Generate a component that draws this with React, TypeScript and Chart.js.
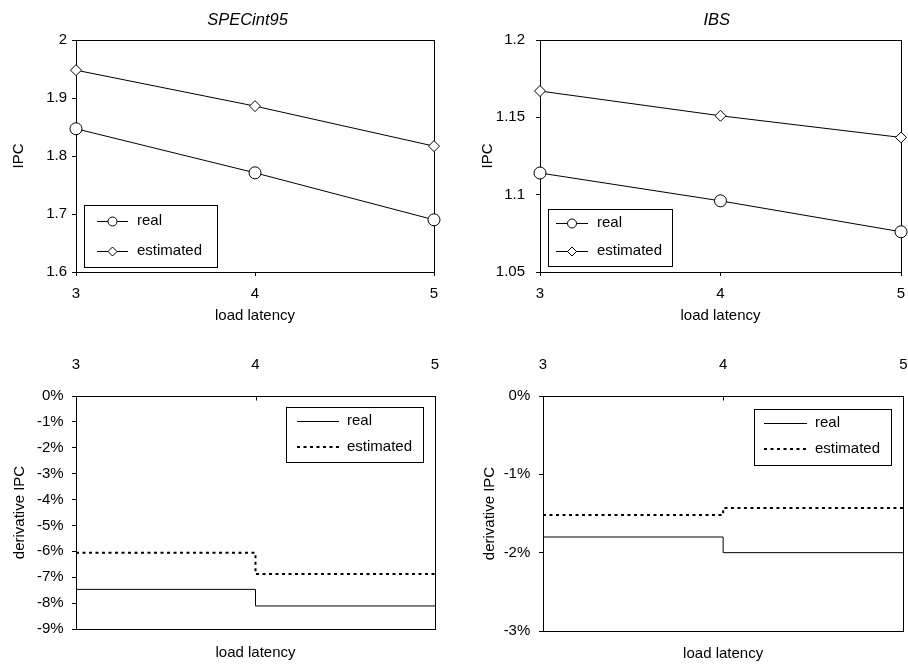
import React, { useEffect, useRef } from "react";
import { Chart, registerables } from "chart.js";

Chart.register(...registerables);

const FONT = "'Liberation Sans', Arial, Helvetica, sans-serif";
Chart.defaults.font.family = FONT;
Chart.defaults.font.size = 15;
Chart.defaults.color = "#000";

// ---------- data ----------
const loadLatency = [3, 4, 5];
const seriesLabels = ["real", "estimated"];
const panelTitles = ["SPECint95", "IBS"];
const xAxisTitle = "load latency";
const ipcAxisTitle = "IPC";
const derivAxisTitle = "derivative IPC";

const specIpcReal = [1.847, 1.771, 1.69];
const specIpcEstimated = [1.948, 1.886, 1.817];
const ibsIpcReal = [1.114, 1.096, 1.076];
const ibsIpcEstimated = [1.167, 1.151, 1.137];

// derivative of IPC per latency interval (3->4, 4->5), in percent
const specDerivReal = [-7.47, -8.11];
const specDerivEstimated = [-6.05, -6.88];
const ibsDerivReal = [-1.8, -2.0];
const ibsDerivEstimated = [-1.52, -1.43];

const specIpcTicks = [1.6, 1.7, 1.8, 1.9, 2];
const ibsIpcTicks = [1.05, 1.1, 1.15, 1.2];
const specDerivTicks = [-9, -8, -7, -6, -5, -4, -3, -2, -1, 0];
const ibsDerivTicks = [-3, -2, -1, 0];

// ---------- helpers ----------
const linePoints = (vals: number[]) => loadLatency.map((x, i) => ({ x, y: vals[i] }));
const stepPoints = (vals: number[]) =>
  loadLatency.map((x, i) => ({ x, y: vals[Math.min(i, vals.length - 1)] }));

const decorPlugin = {
  id: "decor",
  beforeDatasetsDraw(chart: any, _args: any, opts: any) {
    const { ctx, chartArea: a } = chart;
    ctx.save();
    ctx.strokeStyle = "#000";
    ctx.lineWidth = 1;
    ctx.setLineDash([]);
    const l = Math.round(a.left) + 0.5;
    const r = Math.round(a.right) + 0.5;
    const t = Math.round(a.top) + 0.5;
    const b = Math.round(a.bottom) + 0.5;
    ctx.strokeRect(l, t, r - l, b - t);
    if (opts.innerTopTicks) {
      const xs = chart.scales.x;
      ctx.beginPath();
      xs.ticks.forEach((tk: any) => {
        const px = Math.round(xs.getPixelForValue(tk.value)) + 0.5;
        ctx.moveTo(px, t);
        ctx.lineTo(px, t + 4);
      });
      ctx.stroke();
    }
    ctx.restore();
  },
  afterDatasetsDraw(chart: any, _args: any, opts: any) {
    const { ctx } = chart;
    ctx.save();
    if (opts.title) {
      ctx.font = `italic 16.5px ${FONT}`;
      ctx.fillStyle = "#000";
      ctx.textAlign = "center";
      ctx.textBaseline = "alphabetic";
      ctx.fillText(opts.title, opts.titleX, opts.titleY);
    }
    const lg = opts.legend;
    if (lg) {
      const [x0, y0, x1, y1] = lg.box;
      ctx.fillStyle = "#fff";
      ctx.fillRect(x0, y0, x1 - x0, y1 - y0);
      ctx.strokeStyle = "#000";
      ctx.lineWidth = 1;
      ctx.setLineDash([]);
      ctx.strokeRect(Math.round(x0) + 0.5, Math.round(y0) + 0.5, Math.round(x1 - x0), Math.round(y1 - y0));
      chart.data.datasets.forEach((ds: any, i: number) => {
        const y = lg.rows[i];
        ctx.save();
        ctx.strokeStyle = ds.borderColor;
        ctx.lineWidth = ds.borderWidth;
        ctx.setLineDash(ds.borderDash || []);
        ctx.beginPath();
        const yy = ds.borderWidth % 2 === 1 ? Math.round(y) + 0.5 : Math.round(y);
        ctx.moveTo(lg.line[0], yy);
        ctx.lineTo(lg.line[1], yy);
        ctx.stroke();
        ctx.restore();
        if (ds.pointRadius > 0) {
          const mx = (lg.line[0] + lg.line[1]) / 2;
          const rr = 4.5;
          ctx.save();
          ctx.fillStyle = "#fff";
          ctx.strokeStyle = "#000";
          ctx.lineWidth = 1;
          ctx.setLineDash([]);
          ctx.beginPath();
          if (ds.pointStyle === "circle") {
            ctx.arc(mx, yy, rr, 0, Math.PI * 2);
          } else {
            ctx.moveTo(mx - rr, yy);
            ctx.lineTo(mx, yy - rr);
            ctx.lineTo(mx + rr, yy);
            ctx.lineTo(mx, yy + rr);
            ctx.closePath();
          }
          ctx.fill();
          ctx.stroke();
          ctx.restore();
        }
        ctx.fillStyle = "#000";
        ctx.font = `15px ${FONT}`;
        ctx.textAlign = "left";
        ctx.textBaseline = "middle";
        ctx.fillText(ds.label, lg.text, y);
      });
    }
    ctx.restore();
  },
};

const realIpcStyle = {
  borderColor: "#000",
  borderWidth: 1,
  pointStyle: "circle",
  pointRadius: 6,
  pointBackgroundColor: "#fff",
  pointBorderColor: "#000",
  pointBorderWidth: 1,
  clip: false,
};
const estIpcStyle = {
  borderColor: "#000",
  borderWidth: 1,
  pointStyle: "rectRot",
  pointRadius: 5.5,
  pointBackgroundColor: "#fff",
  pointBorderColor: "#000",
  pointBorderWidth: 1,
  clip: false,
};
const realDerivStyle = {
  borderColor: "#000",
  borderWidth: 1,
  pointRadius: 0,
  stepped: true,
  clip: false,
};
const estDerivStyle = {
  borderColor: "#000",
  borderWidth: 2,
  borderDash: [3, 3.5],
  pointRadius: 0,
  stepped: true,
  clip: false,
};

const tickGrid = { display: true, drawOnChartArea: false, drawTicks: true, tickLength: 4, color: "#000", lineWidth: 1 };

const fixHeight = (h: number) => (s: any) => {
  s.height = h;
  s.paddingLeft = 0;
  s.paddingRight = 0;
};

function ipcConfig(p: any) {
  return {
    type: "line",
    data: {
      datasets: [
        { label: seriesLabels[0], data: linePoints(p.real), ...realIpcStyle },
        { label: seriesLabels[1], data: linePoints(p.est), ...estIpcStyle },
      ],
    },
    plugins: [decorPlugin],
    options: {
      responsive: false,
      animation: false,
      devicePixelRatio: 1,
      layout: { padding: { left: 0, top: 40, right: p.padRight, bottom: 0 } },
      plugins: {
        legend: { display: false },
        tooltip: { enabled: false },
        decor: { title: p.title, titleX: p.titleX, titleY: 25, legend: p.legend },
      },
      scales: {
        x: {
          type: "linear",
          position: "bottom",
          min: loadLatency[0],
          max: loadLatency[loadLatency.length - 1],
          afterBuildTicks: (s: any) => {
            s.ticks = loadLatency.map((v) => ({ value: v }));
          },
          ticks: { padding: 9, color: "#000", font: { size: 15 } },
          grid: tickGrid,
          border: { display: false },
          title: { display: true, text: xAxisTitle, color: "#000", font: { size: 15 }, padding: { top: 0, bottom: 5.5 } },
          afterFit: fixHeight(58),
        },
        y: {
          type: "linear",
          min: p.ticks[0],
          max: p.ticks[p.ticks.length - 1],
          afterBuildTicks: (s: any) => {
            s.ticks = p.ticks.map((v: number) => ({ value: v }));
          },
          ticks: { padding: p.yPad, color: "#000", font: { size: 15 }, callback: (v: number) => String(v) },
          grid: tickGrid,
          border: { display: false },
          title: { display: true, text: ipcAxisTitle, color: "#000", font: { size: 15 }, padding: { top: p.yTitlePad, bottom: 0 } },
          afterFit: (s: any) => {
            s.width = p.yWidth;
            s.paddingTop = 0;
            s.paddingBottom = 0;
          },
        },
      },
    },
  };
}

function derivConfig(p: any) {
  return {
    type: "line",
    data: {
      datasets: [
        { label: seriesLabels[0], data: stepPoints(p.real), ...realDerivStyle },
        { label: seriesLabels[1], data: stepPoints(p.est), ...estDerivStyle },
      ],
    },
    plugins: [decorPlugin],
    options: {
      responsive: false,
      animation: false,
      devicePixelRatio: 1,
      layout: { padding: { left: 0, top: 0, right: p.padRight, bottom: 0 } },
      plugins: {
        legend: { display: false },
        tooltip: { enabled: false },
        decor: { innerTopTicks: true, legend: p.legend },
      },
      scales: {
        x: {
          type: "linear",
          position: "top",
          min: loadLatency[0],
          max: loadLatency[loadLatency.length - 1],
          afterBuildTicks: (s: any) => {
            s.ticks = loadLatency.map((v) => ({ value: v }));
          },
          ticks: { padding: 14, color: "#000", font: { size: 15 } },
          grid: { display: false },
          border: { display: false },
          afterFit: fixHeight(66),
        },
        x2: {
          type: "linear",
          position: "bottom",
          min: loadLatency[0],
          max: loadLatency[loadLatency.length - 1],
          ticks: { display: false },
          grid: { display: false },
          border: { display: false },
          title: { display: true, text: xAxisTitle, color: "#000", font: { size: 15 }, padding: { top: 0, bottom: p.xTitlePad } },
          afterFit: fixHeight(p.x2Height),
        },
        y: {
          type: "linear",
          min: p.ticks[0],
          max: p.ticks[p.ticks.length - 1],
          afterBuildTicks: (s: any) => {
            s.ticks = p.ticks.map((v: number) => ({ value: v }));
          },
          ticks: { padding: p.yPad, color: "#000", font: { size: 15 }, callback: (v: number) => `${v}%` },
          grid: tickGrid,
          border: { display: false },
          title: { display: true, text: derivAxisTitle, color: "#000", font: { size: 15 }, padding: { top: p.yTitlePad, bottom: 0 } },
          afterFit: (s: any) => {
            s.width = p.yWidth;
            s.paddingTop = 0;
            s.paddingBottom = 0;
          },
        },
      },
    },
  };
}

const panels = [
  {
    left: 0,
    top: 0,
    height: 330,
    config: () =>
      ipcConfig({
        real: specIpcReal,
        est: specIpcEstimated,
        ticks: specIpcTicks,
        title: panelTitles[0],
        titleX: 247.5,
        padRight: 20,
        yWidth: 76,
        yPad: 5,
        yTitlePad: 10.3,
        legend: { box: [84, 205, 217, 267], rows: [221, 250.5], line: [97, 128], text: 137 },
      }),
  },
  {
    left: 454,
    top: 0,
    height: 330,
    config: () =>
      ipcConfig({
        real: ibsIpcReal,
        est: ibsIpcEstimated,
        ticks: ibsIpcTicks,
        title: panelTitles[1],
        titleX: 262.7,
        padRight: 5.5,
        yWidth: 86,
        yPad: 11,
        yTitlePad: 25.3,
        legend: { box: [94, 209, 218, 266], rows: [223, 250.5], line: [102, 134], text: 143 },
      }),
  },
  {
    left: 0,
    top: 330,
    height: 335,
    config: () =>
      derivConfig({
        real: specDerivReal,
        est: specDerivEstimated,
        ticks: specDerivTicks,
        padRight: 19,
        yWidth: 76,
        yPad: 8.4,
        yTitlePad: 10.8,
        x2Height: 36,
        xTitlePad: 3.2,
        legend: { box: [286, 77, 423, 132], rows: [90.5, 116.5], line: [297, 339], text: 347 },
      }),
  },
  {
    left: 454,
    top: 330,
    height: 335,
    config: () =>
      derivConfig({
        real: ibsDerivReal,
        est: ibsDerivEstimated,
        ticks: ibsDerivTicks,
        padRight: 4.7,
        yWidth: 89,
        yPad: 8.7,
        yTitlePad: 26.8,
        x2Height: 34,
        xTitlePad: 2.2,
        legend: { box: [300, 79, 437, 135], rows: [93, 119], line: [310, 353], text: 361 },
      }),
  },
];

function Panel({ left, top, height, config }: any) {
  const ref = useRef<HTMLCanvasElement | null>(null);
  useEffect(() => {
    const chart = new Chart(ref.current as HTMLCanvasElement, config() as any);
    return () => chart.destroy();
  }, []);
  return (
    <canvas
      ref={ref}
      width={454}
      height={height}
      style={{ position: "absolute", left, top, width: 454, height, display: "block" }}
    />
  );
}

export default function App() {
  return (
    <div style={{ position: "absolute", left: 0, top: 0, width: 908, height: 665, background: "#fff", overflow: "hidden" }}>
      {panels.map((p, i) => (
        <Panel key={i} {...p} />
      ))}
    </div>
  );
}
